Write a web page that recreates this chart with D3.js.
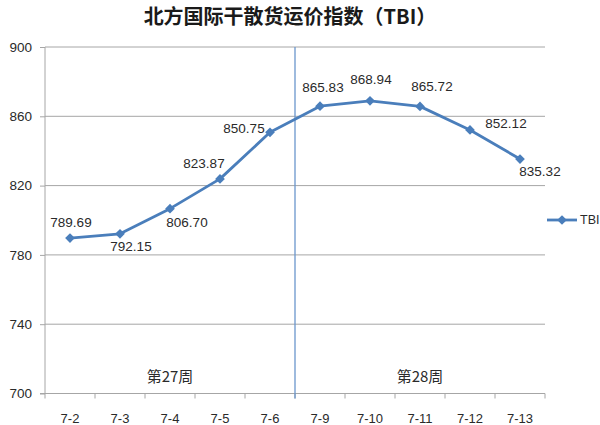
<!DOCTYPE html>
<html>
<head>
<meta charset="utf-8">
<script src="https://cdn.jsdelivr.net/npm/d3@7"></script>
<style>
  html, body { margin: 0; padding: 0; background: #fff; }
  svg { display: block; }
</style>
</head>
<body>
<svg id="chart" width="600" height="425"></svg>
<script>
const title = "北方国际干散货运价指数（TBI）";
const categories = ["7-2", "7-3", "7-4", "7-5", "7-6", "7-9", "7-10", "7-11", "7-12", "7-13"];
const tbiValues = [789.69, 792.15, 806.70, 823.87, 850.75, 865.83, 868.94, 865.72, 852.12, 835.32];
const yTicks = [700, 740, 780, 820, 860, 900];
const weekLabels = ["第27周", "第28周"];
const weekStarts = ["7-2", "7-9"];
const seriesName = "TBI";
// label nudges (dx, dy) relative to each point
const labelOffsets = [[1, -16], [11, 13], [17, 14], [-16, -15], [-26, -4], [3, -19], [1, -21], [12, -20], [36, -6], [20, 12]];

const svg = d3.select("#chart");
const plotLeft = 45, plotRight = 545, plotTop = 47, plotBottom = 393.5;
const lineColor = "#4A7EBB";
const gridColor = "#A6A6A6";
const textColor = "#2a2a2a";
const numFont = "'Liberation Sans', Arial, sans-serif";
const cjkFont = "'Noto Sans CJK SC', sans-serif";

const x = d3.scaleBand().domain(categories).range([plotLeft, plotRight]).padding(0);
const y = d3.scaleLinear().domain([700, 900]).range([plotBottom, plotTop]);
const cx = c => x(c) + x.bandwidth() / 2;

// title
svg.append("text")
  .attr("x", 290).attr("y", 15)
  .attr("text-anchor", "middle").attr("dominant-baseline", "central")
  .attr("font-family", cjkFont).attr("font-weight", "bold")
  .attr("font-size", 20).attr("fill", "#1a1a1a")
  .text(title);

// gridlines
svg.append("g").selectAll("line").data(yTicks.filter(t => t !== 700)).join("line")
  .attr("x1", plotLeft).attr("x2", plotRight)
  .attr("y1", d => y(d)).attr("y2", d => y(d))
  .attr("stroke", gridColor).attr("stroke-width", 1);

// y axis
const yAxis = d3.axisLeft(y).tickValues(yTicks).tickSize(5).tickPadding(8).tickFormat(d3.format("d"));
const yg = svg.append("g").attr("transform", `translate(${plotLeft},0)`).call(yAxis);
yg.select(".domain").attr("stroke", gridColor).attr("d", `M0,${plotTop}V${plotBottom}`);
yg.selectAll(".tick line").attr("stroke", gridColor);
yg.selectAll(".tick text").attr("font-family", numFont).attr("font-size", 13.5).attr("fill", textColor);

// x axis baseline
svg.append("line")
  .attr("x1", plotLeft - 5).attr("x2", plotRight)
  .attr("y1", plotBottom).attr("y2", plotBottom)
  .attr("stroke", gridColor);
// x boundary ticks
const boundaries = categories.map(c => x(c)).concat([plotRight]);
svg.append("g").selectAll("line").data(boundaries).join("line")
  .attr("x1", d => d).attr("x2", d => d)
  .attr("y1", plotBottom).attr("y2", plotBottom + 5)
  .attr("stroke", gridColor);
// x labels
svg.append("g").selectAll("text").data(categories).join("text")
  .attr("x", d => cx(d)).attr("y", 418)
  .attr("text-anchor", "middle").attr("dominant-baseline", "central")
  .attr("font-family", numFont).attr("font-size", 13).attr("fill", textColor)
  .text(d => d);

// week separator
svg.append("line")
  .attr("x1", x(weekStarts[1])).attr("x2", x(weekStarts[1]))
  .attr("y1", plotTop).attr("y2", plotBottom + 5)
  .attr("stroke", "#6A96CC").attr("stroke-width", 1.3);

// week labels
const weekBounds = [[x(weekStarts[0]), x(weekStarts[1])], [x(weekStarts[1]), plotRight]];
svg.append("g").selectAll("text").data(weekLabels).join("text")
  .attr("x", (d, i) => (weekBounds[i][0] + weekBounds[i][1]) / 2)
  .attr("y", 375)
  .attr("text-anchor", "middle").attr("dominant-baseline", "central")
  .attr("font-family", cjkFont).attr("font-size", 15).attr("fill", textColor)
  .text(d => d);

// line
const data = categories.map((c, i) => ({ c, v: tbiValues[i], off: labelOffsets[i] }));
svg.append("path").datum(data)
  .attr("d", d3.line().x(d => cx(d.c)).y(d => y(d.v)))
  .attr("fill", "none").attr("stroke", lineColor).attr("stroke-width", 2.8)
  .attr("stroke-linejoin", "round");

const diamond = d3.symbol().type(d3.symbolDiamond2).size(60);
svg.append("g").selectAll("path").data(data).join("path")
  .attr("transform", d => `translate(${cx(d.c)},${y(d.v)})`)
  .attr("d", diamond)
  .attr("fill", lineColor);

// data labels
svg.append("g").selectAll("text").data(data).join("text")
  .attr("x", d => cx(d.c) + d.off[0]).attr("y", d => y(d.v) + d.off[1])
  .attr("text-anchor", "middle").attr("dominant-baseline", "central")
  .attr("font-family", numFont).attr("font-size", 13.5).attr("fill", textColor)
  .text(d => d3.format(".2f")(d.v));

// legend
const lg = svg.append("g");
lg.append("line").attr("x1", 547).attr("x2", 577).attr("y1", 220).attr("y2", 220)
  .attr("stroke", lineColor).attr("stroke-width", 2.8);
lg.append("path").attr("transform", "translate(562,220)").attr("d", diamond).attr("fill", lineColor);
lg.append("text").attr("x", 580).attr("y", 220).attr("dominant-baseline", "central")
  .attr("font-family", numFont).attr("font-size", 12.5).attr("fill", textColor)
  .text(seriesName);
</script>
</body>
</html>
